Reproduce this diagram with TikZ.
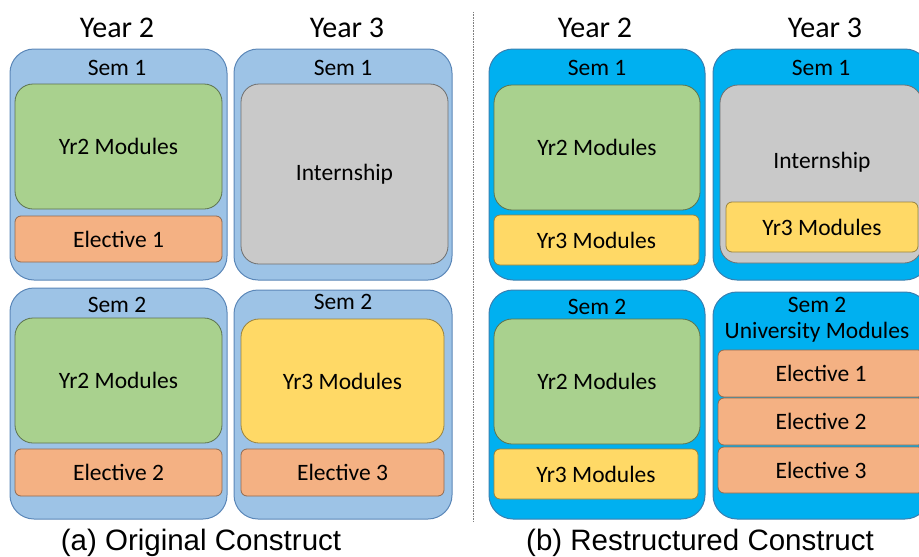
\documentclass[tikz,border=0pt]{standalone}
\usepackage{fontspec}
\setmainfont{Carlito}
\newfontfamily\capfont{Liberation Sans}
\usetikzlibrary{positioning}
\definecolor{semlight}{HTML}{9DC3E6}
\definecolor{semlightline}{HTML}{5B87B8}
\definecolor{semdark}{HTML}{00B0F0}
\definecolor{semdarkline}{HTML}{3A7FB0}
\definecolor{yrtwo}{HTML}{A9D18E}
\definecolor{yrthree}{HTML}{FFD966}
\definecolor{intern}{HTML}{C9C9C9}
\definecolor{elect}{HTML}{F4B183}
\tikzset{
  sem/.style={rectangle, rounded corners=24pt, line width=1pt, inner sep=0pt},
  semA/.style={sem, fill=semlight, draw=semlightline},
  semB/.style={sem, fill=semdark, draw=semdarkline},
  block/.style={rectangle, rounded corners=18pt, line width=0.8pt, inner sep=0pt, font=\fontsize{23.5}{27}\selectfont},
  strip/.style={rectangle, rounded corners=6pt, line width=0.8pt, inner sep=0pt, font=\fontsize{23.5}{27}\selectfont},
  modtwo/.style={block, fill=yrtwo, draw=yrtwo!55!black},
  internbox/.style={block, fill=intern, draw=intern!55!black},
  modthree/.style={block, fill=yrthree, draw=yrthree!60!black},
  stripthree/.style={strip, fill=yrthree, draw=yrthree!60!black},
  elective/.style={strip, fill=elect, draw=elect!60!black},
  yearlabel/.style={font=\fontsize{30}{34}\selectfont, inner sep=0pt},
  semlabel/.style={font=\fontsize{23.5}{26}\selectfont, inner sep=0pt},
  caption/.style={font=\capfont\fontsize{29.5}{33}\selectfont, inner sep=0pt}
}
\begin{document}
\begin{tikzpicture}[x=1pt, y=-1pt]
\useasboundingbox (0,0) rectangle (919,557);
\clip (0,0) rectangle (919,557);

% (a) Original Construct
\node (yearA2) [yearlabel] at (117,28) {Year 2};
\node (yearA3) [yearlabel] at (347,28) {Year 3};

\node (a11) [semA, minimum width=217pt, minimum height=231pt] at (118.5,164.5) {};
\node (a12) [semA, minimum width=218pt, minimum height=231pt] at (343,164.5) {};
\node (a21) [semA, minimum width=217pt, minimum height=231pt] at (118.5,403.5) {};
\node (a22) [semA, minimum width=218pt, minimum height=229pt] at (343,404.5) {};

\node (a11-sem) [semlabel] at (117,68) {Sem 1};
\node (a12-sem) [semlabel] at (343,68) {Sem 1};
\node (a21-sem) [semlabel] at (117,305) {Sem 2};
\node (a22-sem) [semlabel] at (343,302) {Sem 2};

\node (a11-mod) [modtwo, minimum width=207pt, minimum height=125pt] at (118.5,146.5) {Yr2 Modules};
\node (a11-el) [elective, minimum width=207pt, minimum height=46pt] at (118.5,239) {Elective 1};
\node (a12-int) [internbox, minimum width=207pt, minimum height=180pt] at (344.5,174) {Internship};
\node (a21-mod) [modtwo, minimum width=207pt, minimum height=125pt] at (118.5,380.5) {Yr2 Modules};
\node (a21-el) [elective, minimum width=207pt, minimum height=47pt] at (118.5,472.5) {Elective 2};
\node (a22-mod) [modthree, minimum width=203pt, minimum height=124pt] at (342.5,381) {Yr3 Modules};
\node (a22-el) [elective, minimum width=203pt, minimum height=47pt] at (342.5,472.5) {Elective 3};

\node (capA) [caption] at (201,543) {(a) Original Construct};

% separator
\coordinate (sepTop) at (473,12);
\coordinate (sepBot) at (473,522);
\draw [gray, densely dotted, line width=0.6pt] (sepTop) -- (sepBot);

% (b) Restructured Construct
\node (yearB2) [yearlabel] at (595,28) {Year 2};
\node (yearB3) [yearlabel] at (825,28) {Year 3};

\node (b11) [semB, minimum width=216pt, minimum height=231pt] at (597,164.5) {};
\node (b12) [semB, minimum width=216pt, minimum height=231pt] at (821,164.5) {};
\node (b21) [semB, minimum width=216pt, minimum height=229pt] at (597,404.5) {};
\node (b22) [semB, minimum width=216pt, minimum height=227pt] at (821,405.5) {};

\node (b11-sem) [semlabel] at (597,68) {Sem 1};
\node (b12-sem) [semlabel] at (821,68) {Sem 1};
\node (b21-sem) [semlabel] at (597,307) {Sem 2};
\node (b22-sem) [semlabel, align=center] at (817,320) {Sem 2\\University Modules};

\node (b11-mod) [modtwo, minimum width=206pt, minimum height=125pt] at (597,147.5) {Yr2 Modules};
\node (b11-three) [stripthree, minimum width=205pt, minimum height=50pt] at (596.5,240) {Yr3 Modules};
\node (b12-int) [internbox, minimum width=202pt, minimum height=178pt] at (821,174) {};
\node (b12-intlabel) [semlabel] at (822,162) {Internship};
\node (b12-three) [stripthree, minimum width=192pt, minimum height=50pt] at (822,227) {Yr3 Modules};
\node (b21-mod) [modtwo, minimum width=206pt, minimum height=125pt] at (597,381.5) {Yr2 Modules};
\node (b21-three) [stripthree, minimum width=204pt, minimum height=50pt] at (596,474) {Yr3 Modules};
\node (b22-el1) [elective, minimum width=206pt, minimum height=47pt] at (821,373.5) {Elective 1};
\node (b22-el2) [elective, minimum width=206pt, minimum height=47pt] at (821,421.5) {Elective 2};
\node (b22-el3) [elective, minimum width=206pt, minimum height=46pt] at (821,470) {Elective 3};

\node (capB) [caption] at (700,543) {(b) Restructured Construct};

\end{tikzpicture}
\end{document}
